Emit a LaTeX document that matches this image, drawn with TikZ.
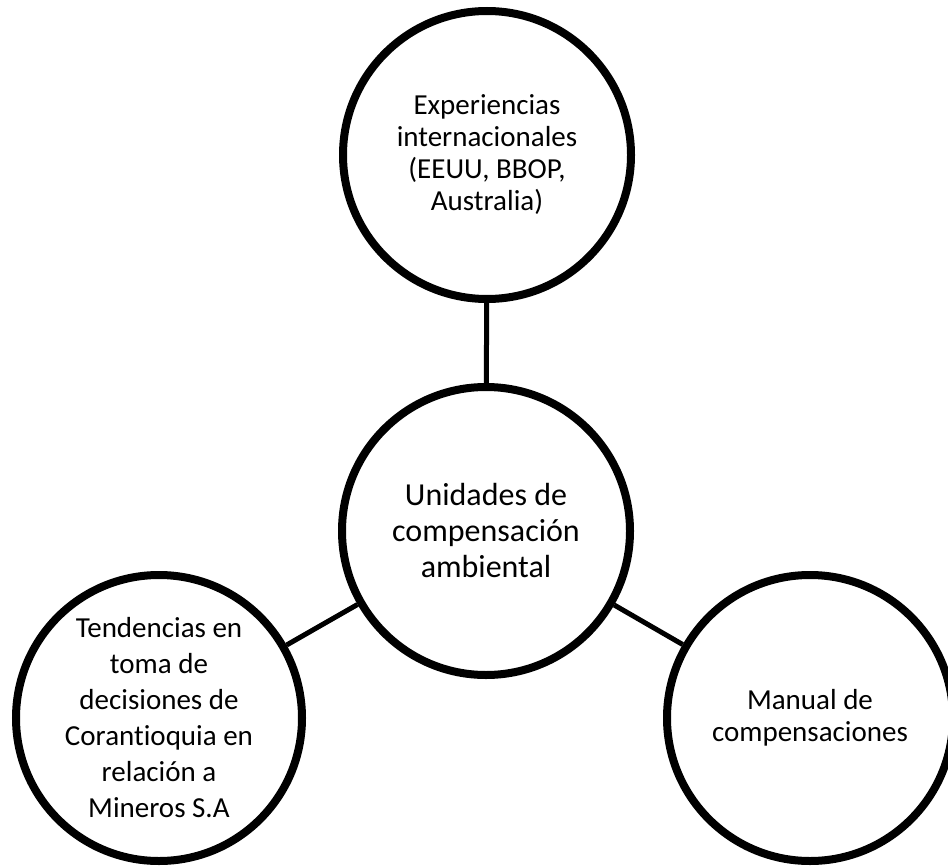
\documentclass[tikz,border=0pt]{standalone}
\usepackage{fontspec}
\setmainfont{Carlito}[Ligatures=CommonOff]
\usetikzlibrary{calc}

\tikzset{
  bubble/.style={circle,draw=black,line width=8pt,minimum size=288pt,inner sep=0pt,align=center,font=\fontsize{29}{32}\selectfont},
  link/.style={line width=5pt}
}

\begin{document}
\begin{tikzpicture}[x=1pt,y=-1pt]
    \useasboundingbox (0,0) rectangle (948,867);

    \node[bubble] (exp) at (487,155) {Experiencias\\internacionales\\(EEUU, BBOP,\\Australia)};
    \node[bubble,font=\fontsize{32}{36}\selectfont] (uni) at (486,531) {Unidades de\\compensación\\ambiental};
    \node[bubble,minimum size=286pt,font=\fontsize{29}{36}\selectfont] (ten) at (159,718) {Tendencias en\\toma de\\decisiones de\\Corantioquia en\\relación a\\Mineros S.A};
    \node[bubble,minimum size=286pt] (man) at (810,718) {Manual de\\compensaciones};

    \draw[link] (exp) to (uni);
    \draw[link] (uni) to (ten);
    \draw[link] (uni) to (man);
  \end{tikzpicture}
\end{document}
